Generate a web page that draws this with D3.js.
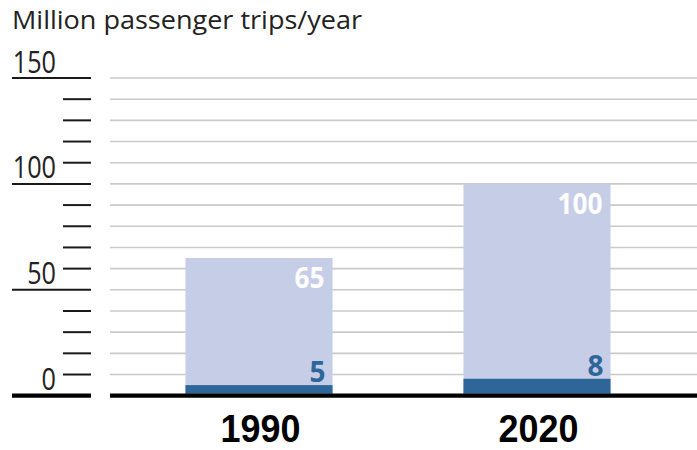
<!DOCTYPE html>
<html>
<head>
<meta charset="utf-8">
<script src="https://cdn.jsdelivr.net/npm/d3@7"></script>
<style>
  html, body { margin: 0; padding: 0; background: #fff; }
  svg { display: block; }
  text { font-family: "Open Sans", sans-serif; }
</style>
</head>
<body>
<script>
const years = ["1990", "2020"];
const totalTrips = [65, 100];
const railTrips = [5, 8];
const tickValues = d3.range(0, 151, 10);
const labelValues = [0, 50, 100, 150];
const title = "Million passenger trips/year";

const W = 697, H = 450;
const svg = d3.select("body").append("svg").attr("width", W).attr("height", H);

const y = d3.scaleLinear().domain([0, 150]).range([395.7, 78]);
const x = d3.scaleBand().domain(years).range([120, 676]).paddingInner(0.471).paddingOuter(0.2355);

// gridlines
svg.append("g").selectAll("line")
  .data(tickValues.filter(v => v > 0))
  .join("line")
  .attr("x1", 110).attr("x2", W)
  .attr("y1", d => y(d)).attr("y2", d => y(d))
  .attr("stroke", "#cacaca").attr("stroke-width", 1.6);

// axis ticks
const axis = svg.append("g");
axis.selectAll("line")
  .data(tickValues.filter(v => v > 0))
  .join("line")
  .attr("x1", d => labelValues.includes(d) ? 12 : 63)
  .attr("x2", 91)
  .attr("y1", d => y(d)).attr("y2", d => y(d))
  .attr("stroke", "#1a1a1a").attr("stroke-width", 2);

// baseline (axis part)
svg.append("line").attr("x1", 12).attr("x2", 91)
  .attr("y1", y(0)).attr("y2", y(0))
  .attr("stroke", "#000").attr("stroke-width", 4.3);

// axis labels
axis.selectAll("text")
  .data(labelValues)
  .join("text")
  .attr("x", 56)
  .attr("y", d => y(d) - 5.5)
  .attr("text-anchor", "end")
  .attr("font-size", 31)
  .attr("fill", "#222")
  .attr("textLength", d => String(d).length * 14.4)
  .attr("lengthAdjust", "spacingAndGlyphs")
  .text(d => d);

// title
svg.append("text")
  .attr("x", 12).attr("y", 28.5)
  .attr("font-size", 25)
  .attr("fill", "#222")
  .attr("textLength", 350)
  .attr("lengthAdjust", "spacingAndGlyphs")
  .text(title);

// bars
const bars = svg.append("g");
bars.selectAll("rect.total")
  .data(years)
  .join("rect")
  .attr("class", "total")
  .attr("x", d => x(d))
  .attr("width", x.bandwidth())
  .attr("y", (d, i) => y(totalTrips[i]))
  .attr("height", (d, i) => y(0) - y(totalTrips[i]))
  .attr("fill", "#c6cde7");

bars.selectAll("rect.rail")
  .data(years)
  .join("rect")
  .attr("class", "rail")
  .attr("x", d => x(d))
  .attr("width", x.bandwidth())
  .attr("y", (d, i) => y(railTrips[i]))
  .attr("height", (d, i) => y(0) - y(railTrips[i]) - 2)
  .attr("fill", "#2f6699");

// baseline over bars
svg.append("line").attr("x1", 110).attr("x2", W)
  .attr("y1", y(0)).attr("y2", y(0))
  .attr("stroke", "#000").attr("stroke-width", 4.3);

// value labels
bars.selectAll("text.total")
  .data(years)
  .join("text")
  .attr("class", "total")
  .attr("x", d => x(d) + x.bandwidth() - 8)
  .attr("y", (d, i) => y(totalTrips[i]) + 30)
  .attr("text-anchor", "end")
  .attr("font-size", 28)
  .attr("font-weight", "bold")
  .attr("fill", "#fff")
  .attr("textLength", (d, i) => String(totalTrips[i]).length * 15)
  .attr("lengthAdjust", "spacingAndGlyphs")
  .text((d, i) => totalTrips[i]);

bars.selectAll("text.rail")
  .data(years)
  .join("text")
  .attr("class", "rail")
  .attr("x", d => x(d) + x.bandwidth() - 7)
  .attr("y", (d, i) => y(railTrips[i]) - 3)
  .attr("text-anchor", "end")
  .attr("font-size", 28)
  .attr("font-weight", "bold")
  .attr("fill", "#2f6699")
  .text((d, i) => railTrips[i]);

// category labels
svg.append("g").selectAll("text")
  .data(years)
  .join("text")
  .attr("x", d => x(d) + x.bandwidth() / 2 + 1.5)
  .attr("y", 441.5)
  .attr("text-anchor", "middle")
  .style("font-family", "'Liberation Sans', Arial, sans-serif")
  .attr("font-size", 39)
  .attr("font-weight", "bold")
  .attr("fill", "#000")
  .attr("textLength", 80)
  .attr("lengthAdjust", "spacingAndGlyphs")
  .text(d => d);
</script>
</body>
</html>
